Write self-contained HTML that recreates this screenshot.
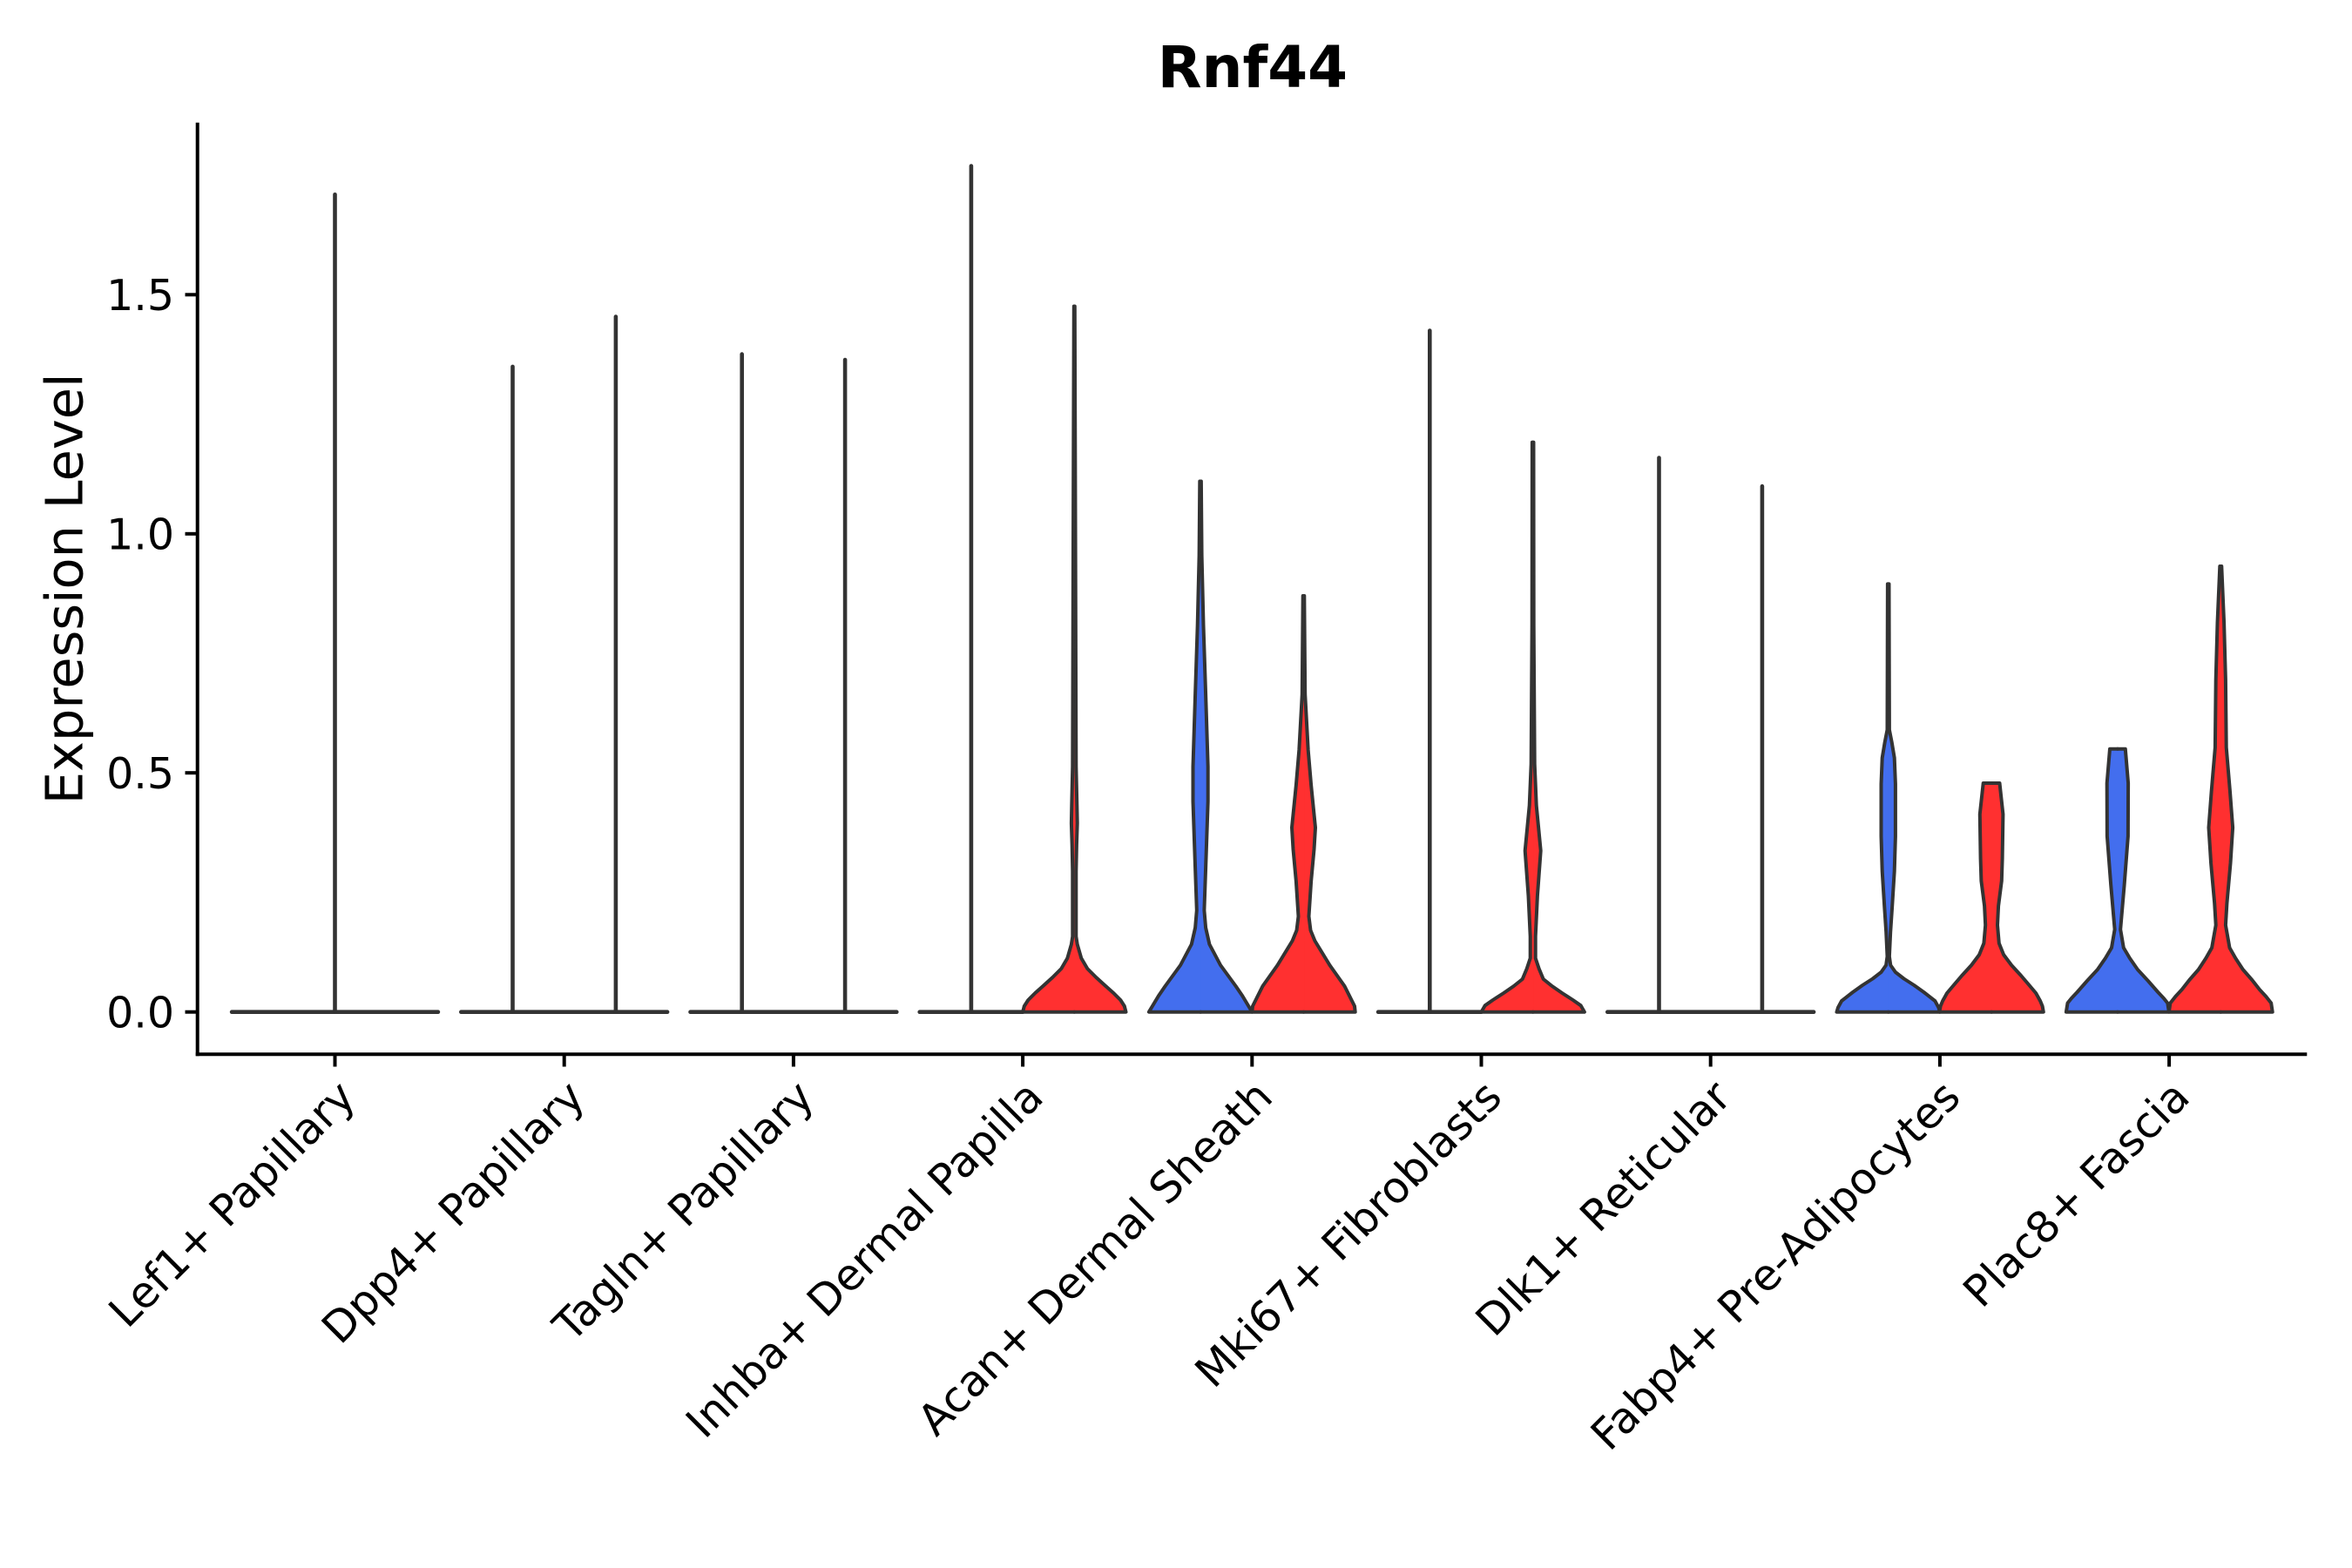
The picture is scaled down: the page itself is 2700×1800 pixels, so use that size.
<!DOCTYPE html>
<html>
<head>
<meta charset="utf-8">
<style>
html,body{margin:0;padding:0;background:#fff;}
svg{display:block;}
.o{fill:none;stroke:#333333;stroke-width:4;stroke-linejoin:round;stroke-linecap:round;}
.l{fill:none;stroke:#333333;stroke-width:4.6;stroke-linecap:round;}
.b{fill:#436EEE;stroke:#436EEE;stroke-width:1.2;}
.r{fill:#FF3030;stroke:#FF3030;stroke-width:1.2;}
.ax{stroke:#000;stroke-width:4;fill:none;}
.tl{font-family:"DejaVu Sans","Liberation Sans",sans-serif;font-size:49px;fill:#000;}
.xl{font-family:"DejaVu Sans","Liberation Sans",sans-serif;font-size:49.5px;fill:#000;}
</style>
</head>
<body>
<svg width="2700" height="1800" viewBox="0 0 2700 1800" xmlns="http://www.w3.org/2000/svg">
<rect x="0" y="0" width="2700" height="1800" fill="#fff"/>

<!-- Title -->
<text x="1437.9" y="100" text-anchor="middle" font-family="DejaVu Sans, Liberation Sans, sans-serif" font-weight="bold" font-size="66">Rnf44</text>

<!-- Y axis title -->
<text x="94.6" y="675.9" text-anchor="middle" transform="rotate(-90 94.6 675.9)" font-family="DejaVu Sans, Liberation Sans, sans-serif" font-size="59">Expression Level</text>

<!-- Zero-only violins (lines) -->
<g class="l">
  <line x1="266.1" y1="1161.7" x2="502.9" y2="1161.7"/>
  <line x1="384.5" y1="223.3" x2="384.5" y2="1161.7"/>
  <line x1="529.3" y1="1161.7" x2="766.1" y2="1161.7"/>
  <line x1="588.5" y1="420.9" x2="588.5" y2="1161.7"/>
  <line x1="706.9" y1="363.5" x2="706.9" y2="1161.7"/>
  <line x1="792.5" y1="1161.7" x2="1029.3" y2="1161.7"/>
  <line x1="851.7" y1="406.6" x2="851.7" y2="1161.7"/>
  <line x1="970.1" y1="413" x2="970.1" y2="1161.7"/>
  <line x1="1055.7" y1="1161.7" x2="1174.1" y2="1161.7"/>
  <line x1="1114.9" y1="190.5" x2="1114.9" y2="1161.7"/>
  <line x1="1582.1" y1="1161.7" x2="1700.5" y2="1161.7"/>
  <line x1="1641.3" y1="379.5" x2="1641.3" y2="1161.7"/>
  <line x1="1845.3" y1="1161.7" x2="2082.1" y2="1161.7"/>
  <line x1="1904.5" y1="525.5" x2="1904.5" y2="1161.7"/>
  <line x1="2022.9" y1="558.2" x2="2022.9" y2="1161.7"/>
</g>

<!-- Inhba red -->
<g transform="translate(1233.3,0)">
  <path class="r" d="M0,351.6 L0.5,351.6 L1,520 L1.5,700 L2,880 L3,925 L3.4,945 L2.6,970 L2,1000 L2,1075 L3.4,1084 L8,1100 L15,1112 L25,1122 L36,1132 L45,1140 L53,1148 L57.5,1155 L59.2,1161.7 L0,1161.7 Z"/>
  <path class="r" transform="scale(-1,1)" d="M0,351.6 L0.5,351.6 L1,520 L1.5,700 L2,880 L3,925 L3.4,945 L2.6,970 L2,1000 L2,1075 L3.4,1084 L8,1100 L15,1112 L25,1122 L36,1132 L45,1140 L53,1148 L57.5,1155 L59.2,1161.7 L0,1161.7 Z"/>
  <path class="o" d="M0,351.6 L0.5,351.6 L1,520 L1.5,700 L2,880 L3,925 L3.4,945 L2.6,970 L2,1000 L2,1075 L3.4,1084 L8,1100 L15,1112 L25,1122 L36,1132 L45,1140 L53,1148 L57.5,1155 L59.2,1161.7 L0,1161.7"/>
  <path class="o" transform="scale(-1,1)" d="M0,351.6 L0.5,351.6 L1,520 L1.5,700 L2,880 L3,925 L3.4,945 L2.6,970 L2,1000 L2,1075 L3.4,1084 L8,1100 L15,1112 L25,1122 L36,1132 L45,1140 L53,1148 L57.5,1155 L59.2,1161.7 L0,1161.7"/>
</g>

<!-- Acan blue -->
<g transform="translate(1378.1,0)">
  <path class="b" d="M0,552.5 L0.8,552.5 L1.5,637.8 L3.4,717.5 L6,797.2 L8.6,880 L8.6,920 L6,996.5 L4.3,1045 L6,1065 L10.3,1084 L23,1108 L40.5,1132 L48,1143 L53.4,1152 L57,1158 L59.2,1161.7 L0,1161.7 Z"/>
  <path class="b" transform="scale(-1,1)" d="M0,552.5 L0.8,552.5 L1.5,637.8 L3.4,717.5 L6,797.2 L8.6,880 L8.6,920 L6,996.5 L4.3,1045 L6,1065 L10.3,1084 L23,1108 L40.5,1132 L48,1143 L53.4,1152 L57,1158 L59.2,1161.7 L0,1161.7 Z"/>
  <path class="o" d="M0,552.5 L0.8,552.5 L1.5,637.8 L3.4,717.5 L6,797.2 L8.6,880 L8.6,920 L6,996.5 L4.3,1045 L6,1065 L10.3,1084 L23,1108 L40.5,1132 L48,1143 L53.4,1152 L57,1158 L59.2,1161.7 L0,1161.7"/>
  <path class="o" transform="scale(-1,1)" d="M0,552.5 L0.8,552.5 L1.5,637.8 L3.4,717.5 L6,797.2 L8.6,880 L8.6,920 L6,996.5 L4.3,1045 L6,1065 L10.3,1084 L23,1108 L40.5,1132 L48,1143 L53.4,1152 L57,1158 L59.2,1161.7 L0,1161.7"/>
</g>

<!-- Acan red -->
<g transform="translate(1496.5,0)">
  <path class="r" d="M0,684 L0.8,684 L1.7,797 L5.2,861 L8.6,901 L13.5,950 L12,975 L8.6,1012 L6,1052 L8,1068 L12.9,1080 L30,1108 L47,1132 L55,1148 L58.5,1155 L59.2,1161.7 L0,1161.7 Z"/>
  <path class="r" transform="scale(-1,1)" d="M0,684 L0.8,684 L1.7,797 L5.2,861 L8.6,901 L13.5,950 L12,975 L8.6,1012 L6,1052 L8,1068 L12.9,1080 L30,1108 L47,1132 L55,1148 L58.5,1155 L59.2,1161.7 L0,1161.7 Z"/>
  <path class="o" d="M0,684 L0.8,684 L1.7,797 L5.2,861 L8.6,901 L13.5,950 L12,975 L8.6,1012 L6,1052 L8,1068 L12.9,1080 L30,1108 L47,1132 L55,1148 L58.5,1155 L59.2,1161.7 L0,1161.7"/>
  <path class="o" transform="scale(-1,1)" d="M0,684 L0.8,684 L1.7,797 L5.2,861 L8.6,901 L13.5,950 L12,975 L8.6,1012 L6,1052 L8,1068 L12.9,1080 L30,1108 L47,1132 L55,1148 L58.5,1155 L59.2,1161.7 L0,1161.7"/>
</g>

<!-- Mki67 red -->
<g transform="translate(1759.7,0)">
  <path class="r" d="M0,507.8 L0.8,507.8 L1,717.5 L2,876.9 L4,924.7 L9,976.6 L5.2,1028.4 L3,1075 L3,1100 L7,1112 L12,1124 L22,1132 L33.6,1140 L46,1148 L55,1154.3 L59.2,1161.7 L0,1161.7 Z"/>
  <path class="r" transform="scale(-1,1)" d="M0,507.8 L0.8,507.8 L1,717.5 L2,876.9 L4,924.7 L9,976.6 L5.2,1028.4 L3,1075 L3,1100 L7,1112 L12,1124 L22,1132 L33.6,1140 L46,1148 L55,1154.3 L59.2,1161.7 L0,1161.7 Z"/>
  <path class="o" d="M0,507.8 L0.8,507.8 L1,717.5 L2,876.9 L4,924.7 L9,976.6 L5.2,1028.4 L3,1075 L3,1100 L7,1112 L12,1124 L22,1132 L33.6,1140 L46,1148 L55,1154.3 L59.2,1161.7 L0,1161.7"/>
  <path class="o" transform="scale(-1,1)" d="M0,507.8 L0.8,507.8 L1,717.5 L2,876.9 L4,924.7 L9,976.6 L5.2,1028.4 L3,1075 L3,1100 L7,1112 L12,1124 L22,1132 L33.6,1140 L46,1148 L55,1154.3 L59.2,1161.7 L0,1161.7"/>
</g>

<!-- Fabp4 blue -->
<g transform="translate(2167.7,0)">
  <path class="b" d="M0,670.4 L0.8,670.4 L1.2,837.8 L4,852 L7,870 L8.2,900 L8.2,960 L7,1000 L4.5,1040 L2.5,1070 L1.2,1098 L2.6,1108 L8.2,1116 L17.9,1123.5 L29.6,1131 L40.8,1139 L53.6,1149 L57.7,1156.6 L59.2,1161.7 L0,1161.7 Z"/>
  <path class="b" transform="scale(-1,1)" d="M0,670.4 L0.8,670.4 L1.2,837.8 L4,852 L7,870 L8.2,900 L8.2,960 L7,1000 L4.5,1040 L2.5,1070 L1.2,1098 L2.6,1108 L8.2,1116 L17.9,1123.5 L29.6,1131 L40.8,1139 L53.6,1149 L57.7,1156.6 L59.2,1161.7 L0,1161.7 Z"/>
  <path class="o" d="M0,670.4 L0.8,670.4 L1.2,837.8 L4,852 L7,870 L8.2,900 L8.2,960 L7,1000 L4.5,1040 L2.5,1070 L1.2,1098 L2.6,1108 L8.2,1116 L17.9,1123.5 L29.6,1131 L40.8,1139 L53.6,1149 L57.7,1156.6 L59.2,1161.7 L0,1161.7"/>
  <path class="o" transform="scale(-1,1)" d="M0,670.4 L0.8,670.4 L1.2,837.8 L4,852 L7,870 L8.2,900 L8.2,960 L7,1000 L4.5,1040 L2.5,1070 L1.2,1098 L2.6,1108 L8.2,1116 L17.9,1123.5 L29.6,1131 L40.8,1139 L53.6,1149 L57.7,1156.6 L59.2,1161.7 L0,1161.7"/>
</g>

<!-- Fabp4 red -->
<g transform="translate(2286.1,0)">
  <path class="r" d="M0,899 L9.4,899 L13.3,934.7 L12.5,985.7 L11.7,1011.2 L8,1040 L6.9,1062 L8.7,1082.7 L14,1096 L23,1108 L34,1120 L43.4,1131 L51,1140 L56,1149 L58.5,1155 L59.7,1161.7 L0,1161.7 Z"/>
  <path class="r" transform="scale(-1,1)" d="M0,899 L9.4,899 L13.3,934.7 L12.5,985.7 L11.7,1011.2 L8,1040 L6.9,1062 L8.7,1082.7 L14,1096 L23,1108 L34,1120 L43.4,1131 L51,1140 L56,1149 L58.5,1155 L59.7,1161.7 L0,1161.7 Z"/>
  <path class="o" d="M0,899 L9.4,899 L13.3,934.7 L12.5,985.7 L11.7,1011.2 L8,1040 L6.9,1062 L8.7,1082.7 L14,1096 L23,1108 L34,1120 L43.4,1131 L51,1140 L56,1149 L58.5,1155 L59.7,1161.7 L0,1161.7"/>
  <path class="o" transform="scale(-1,1)" d="M0,899 L9.4,899 L13.3,934.7 L12.5,985.7 L11.7,1011.2 L8,1040 L6.9,1062 L8.7,1082.7 L14,1096 L23,1108 L34,1120 L43.4,1131 L51,1140 L56,1149 L58.5,1155 L59.7,1161.7 L0,1161.7"/>
</g>

<!-- Plac8 blue -->
<g transform="translate(2430.9,0)">
  <path class="b" d="M0,859.7 L8.9,859.7 L12.2,899 L12,960 L7.7,1016 L3.3,1067 L6.9,1088 L14,1100 L23,1113 L35,1126 L46.4,1139 L53,1146 L57.4,1151.5 L59,1161.7 L0,1161.7 Z"/>
  <path class="b" transform="scale(-1,1)" d="M0,859.7 L8.9,859.7 L12.2,899 L12,960 L7.7,1016 L3.3,1067 L6.9,1088 L14,1100 L23,1113 L35,1126 L46.4,1139 L53,1146 L57.4,1151.5 L59,1161.7 L0,1161.7 Z"/>
  <path class="o" d="M0,859.7 L8.9,859.7 L12.2,899 L12,960 L7.7,1016 L3.3,1067 L6.9,1088 L14,1100 L23,1113 L35,1126 L46.4,1139 L53,1146 L57.4,1151.5 L59,1161.7 L0,1161.7"/>
  <path class="o" transform="scale(-1,1)" d="M0,859.7 L8.9,859.7 L12.2,899 L12,960 L7.7,1016 L3.3,1067 L6.9,1088 L14,1100 L23,1113 L35,1126 L46.4,1139 L53,1146 L57.4,1151.5 L59,1161.7 L0,1161.7"/>
</g>

<!-- Plac8 red -->
<g transform="translate(2549.3,0)">
  <path class="r" d="M0,650 L1,650 L3.8,715 L5.6,780 L6.4,858 L10.7,909 L13.8,950 L11.2,991 L7.1,1037 L5.6,1062 L10.2,1088 L17,1100 L25.5,1113 L36,1125 L44.6,1136 L52,1144 L57.9,1151.5 L59.4,1161.7 L0,1161.7 Z"/>
  <path class="r" transform="scale(-1,1)" d="M0,650 L1,650 L3.8,715 L5.6,780 L6.4,858 L10.7,909 L13.8,950 L11.2,991 L7.1,1037 L5.6,1062 L10.2,1088 L17,1100 L25.5,1113 L36,1125 L44.6,1136 L52,1144 L57.9,1151.5 L59.4,1161.7 L0,1161.7 Z"/>
  <path class="o" d="M0,650 L1,650 L3.8,715 L5.6,780 L6.4,858 L10.7,909 L13.8,950 L11.2,991 L7.1,1037 L5.6,1062 L10.2,1088 L17,1100 L25.5,1113 L36,1125 L44.6,1136 L52,1144 L57.9,1151.5 L59.4,1161.7 L0,1161.7"/>
  <path class="o" transform="scale(-1,1)" d="M0,650 L1,650 L3.8,715 L5.6,780 L6.4,858 L10.7,909 L13.8,950 L11.2,991 L7.1,1037 L5.6,1062 L10.2,1088 L17,1100 L25.5,1113 L36,1125 L44.6,1136 L52,1144 L57.9,1151.5 L59.4,1161.7 L0,1161.7"/>
</g>

<!-- Axes -->
<line class="ax" x1="226.7" y1="140.7" x2="226.7" y2="1212.3"/>
<line class="ax" x1="224.7" y1="1210.3" x2="2648.3" y2="1210.3"/>

<!-- Y ticks -->
<g class="ax">
  <line x1="212.5" y1="1161.7" x2="226.7" y2="1161.7"/>
  <line x1="212.5" y1="887.2" x2="226.7" y2="887.2"/>
  <line x1="212.5" y1="612.8" x2="226.7" y2="612.8"/>
  <line x1="212.5" y1="338.3" x2="226.7" y2="338.3"/>
</g>
<g class="tl" text-anchor="end">
  <text x="200" y="1179.5">0.0</text>
  <text x="200" y="905">0.5</text>
  <text x="200" y="630.6">1.0</text>
  <text x="200" y="356.1">1.5</text>
</g>

<!-- X ticks -->
<g class="ax">
  <line x1="384.5" y1="1210.3" x2="384.5" y2="1224.5"/>
  <line x1="647.7" y1="1210.3" x2="647.7" y2="1224.5"/>
  <line x1="910.9" y1="1210.3" x2="910.9" y2="1224.5"/>
  <line x1="1174.1" y1="1210.3" x2="1174.1" y2="1224.5"/>
  <line x1="1437.3" y1="1210.3" x2="1437.3" y2="1224.5"/>
  <line x1="1700.5" y1="1210.3" x2="1700.5" y2="1224.5"/>
  <line x1="1963.7" y1="1210.3" x2="1963.7" y2="1224.5"/>
  <line x1="2226.9" y1="1210.3" x2="2226.9" y2="1224.5"/>
  <line x1="2490.1" y1="1210.3" x2="2490.1" y2="1224.5"/>
</g>

<!-- X labels -->
<g class="xl" text-anchor="end">
  <text transform="translate(410.5,1262) rotate(-45)">Lef1+ Papillary</text>
  <text transform="translate(673.7,1262) rotate(-45)">Dpp4+ Papillary</text>
  <text transform="translate(936.9,1262) rotate(-45)">Tagln+ Papillary</text>
  <text transform="translate(1200.1,1262) rotate(-45)">Inhba+ Dermal Papilla</text>
  <text transform="translate(1463.3,1262) rotate(-45)">Acan+ Dermal Sheath</text>
  <text transform="translate(1726.5,1262) rotate(-45)">Mki67+ Fibroblasts</text>
  <text transform="translate(1989.7,1262) rotate(-45)">Dlk1+ Reticular</text>
  <text transform="translate(2252.9,1262) rotate(-45)">Fabp4+ Pre-Adipocytes</text>
  <text transform="translate(2516.1,1262) rotate(-45)">Plac8+ Fascia</text>
</g>
</svg>
</body>
</html>
